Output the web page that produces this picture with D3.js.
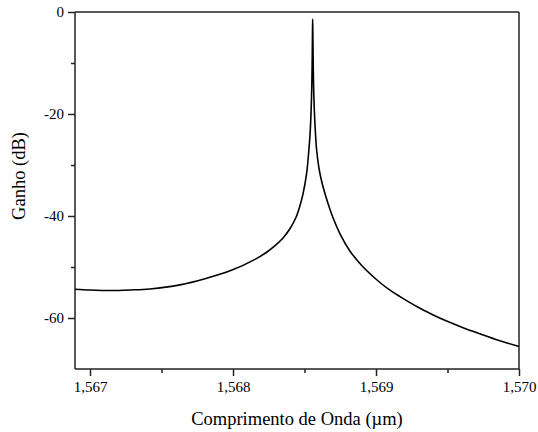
<!DOCTYPE html>
<html>
<head>
<meta charset="utf-8">
<script src="https://cdn.jsdelivr.net/npm/d3@7"></script>
<style>
  html, body { margin: 0; padding: 0; background: #fff; }
  svg { display: block; }
  text { font-family: "Liberation Serif", "Times New Roman", serif; fill: #000; }
</style>
</head>
<body>
<svg id="chart" width="538" height="432"></svg>
<script>
// ---- data ----
const wavelength = [
  1566.895, 1567.00, 1567.14, 1567.28, 1567.419, 1567.629, 1567.804, 1567.993, 1568.154, 1568.230,
  1568.294, 1568.350, 1568.398, 1568.44, 1568.468, 1568.49, 1568.515, 1568.528, 1568.538, 1568.545,
  1568.550, 1568.553, 1568.5555, 1568.557, 1568.5585, 1568.561, 1568.564, 1568.569, 1568.576, 1568.585,
  1568.600, 1568.615, 1568.631, 1568.665, 1568.700, 1568.750, 1568.816, 1568.900, 1569.005, 1569.085,
  1569.168, 1569.308, 1569.400, 1569.494, 1569.600, 1569.727, 1569.860, 1570.000
];
const gain = [
  -54.35, -54.5, -54.6, -54.5, -54.3, -53.5, -52.3, -50.6, -48.5, -47.2,
  -45.8, -44.3, -42.5, -40.3, -38.0, -35.6, -31.6, -27.9, -24.3, -20.3,
  -15.7, -11.2, -4.8, -1.4, -4.4, -10.5, -15.0, -19.5, -23.5, -27.1,
  -30.4, -32.6, -34.4, -37.6, -40.4, -43.6, -46.8, -49.7, -52.5, -54.3,
  -55.8, -58.1, -59.4, -60.6, -61.8, -63.1, -64.4, -65.6
];
const xTicks = [1567, 1568, 1569, 1570];
const xMinorTicks = [1567.5, 1568.5, 1569.5];
const yTicks = [0, -20, -40, -60];
const yMinorTicks = [-10, -30, -50];
const xDomain = [1566.895, 1570];
const yDomain = [-70, 0];
const xTitle = "Comprimento de Onda (\u00B5m)";
const yTitle = "Ganho (dB)";

// ---- layout ----
const pL = 75, pR = 519, pT = 12, pB = 369;
const svg = d3.select("#chart");

const x = d3.scaleLinear().domain(xDomain).range([pL, pR]);
const y = d3.scaleLinear().domain(yDomain).range([pB, pT]);

const axisColor = "#222";

// frame (top & right)
svg.append("line").attr("x1", pL).attr("x2", pR).attr("y1", pT).attr("y2", pT)
  .attr("stroke", axisColor).attr("stroke-width", 1.5);
svg.append("line").attr("x1", pR).attr("x2", pR).attr("y1", pT).attr("y2", pB)
  .attr("stroke", axisColor).attr("stroke-width", 1.5);

// bottom axis
const gx = svg.append("g").attr("transform", `translate(0,${pB})`)
  .call(d3.axisBottom(x).tickValues(xTicks).tickFormat(d => d3.format(".0f")(d).replace(/(\d)(\d{3})$/, "$1,$2")).tickSize(7).tickPadding(5));
gx.select(".domain").remove();
gx.selectAll(".tick line").attr("stroke", axisColor).attr("stroke-width", 1.5);
gx.selectAll(".tick text").style("font-size", "15px").style("font-family", "Liberation Serif, serif").attr("fill", "#000");
svg.append("g").attr("transform", `translate(0,${pB})`)
  .call(d3.axisBottom(x).tickValues(xMinorTicks).tickFormat("").tickSize(4))
  .call(g => g.select(".domain").remove())
  .call(g => g.selectAll(".tick line").attr("stroke", axisColor).attr("stroke-width", 1.5));

// left axis
const gy = svg.append("g").attr("transform", `translate(${pL},0)`)
  .call(d3.axisLeft(y).tickValues(yTicks).tickFormat(d => d === 0 ? "0" : "-" + Math.abs(d)).tickSize(7).tickPadding(4));
gy.select(".domain").remove();
gy.selectAll(".tick line").attr("stroke", axisColor).attr("stroke-width", 1.5);
gy.selectAll(".tick text").style("font-size", "15px").style("font-family", "Liberation Serif, serif").attr("fill", "#000");
svg.append("g").attr("transform", `translate(${pL},0)`)
  .call(d3.axisLeft(y).tickValues(yMinorTicks).tickFormat("").tickSize(4))
  .call(g => g.select(".domain").remove())
  .call(g => g.selectAll(".tick line").attr("stroke", axisColor).attr("stroke-width", 1.5));

// axis lines
svg.append("line").attr("x1", pL).attr("x2", pR).attr("y1", pB).attr("y2", pB)
  .attr("stroke", axisColor).attr("stroke-width", 1.5);
svg.append("line").attr("x1", pL).attr("x2", pL).attr("y1", pT).attr("y2", pB)
  .attr("stroke", axisColor).attr("stroke-width", 1.5);

// curve
const pts = wavelength.map((w, i) => [w, gain[i]]);
svg.append("path").datum(pts)
  .attr("fill", "none").attr("stroke", "#000").attr("stroke-width", 1.6)
  .attr("stroke-linejoin", "miter")
  .attr("d", d3.line().x(d => x(d[0])).y(d => y(d[1])).curve(d3.curveCatmullRom.alpha(0.5)));

// titles
svg.append("text").attr("x", (pL + pR) / 2).attr("y", 425)
  .attr("text-anchor", "middle").style("font-size", "18.5px").text(xTitle);
svg.append("text").attr("transform", `translate(25,176) rotate(-90)`)
  .attr("text-anchor", "middle").style("font-size", "18.5px").text(yTitle);
</script>
</body>
</html>
